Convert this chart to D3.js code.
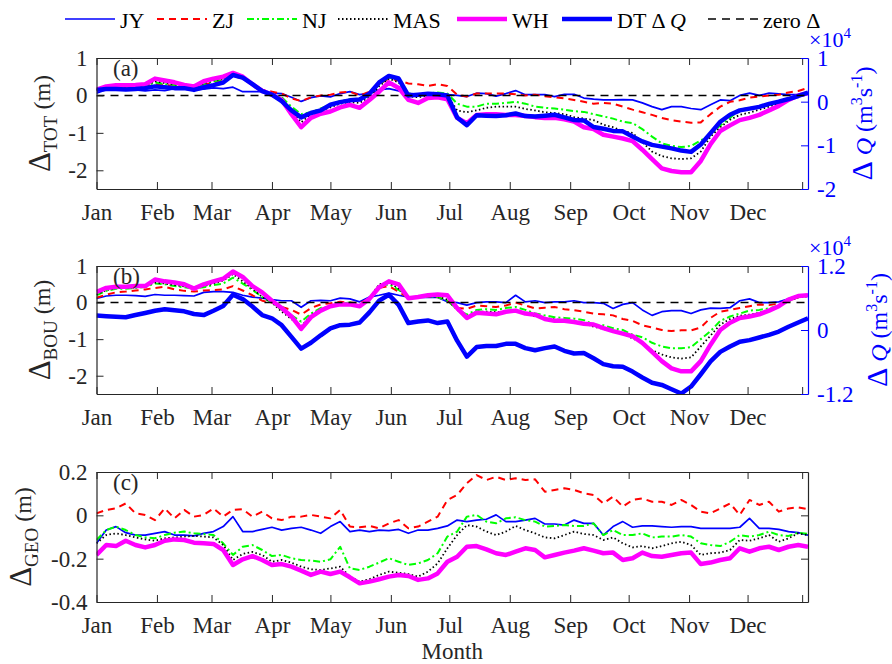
<!DOCTYPE html>
<html>
<head>
<meta charset="utf-8">
<script src="https://cdn.jsdelivr.net/npm/d3@7"></script>
<style>
  body { margin: 0; background: #fff; }
  svg { display: block; }
  text { font-family: "Liberation Serif", "Times New Roman", serif; }
</style>
</head>
<body>
<svg id="chart" width="892" height="664"></svg>
<script>
'use strict';

// day of year, sampled every 5 days
const days = [0,5,10,15,20,25,30,35,40,45,50,55,60,65,70,75,80,85,90,95,100,105,110,115,120,125,130,135,140,145,150,155,160,165,170,175,180,
    185,190,195,200,205,210,215,220,225,230,235,240,245,250,255,260,265,270,275,280,285,290,295,300,305,310,315,320,325,330,335,340,345,350,355,360,365];
const monthStarts = [0, 31, 59, 90, 120, 151, 181, 212, 243, 273, 304, 334];
const monthNames = ['Jan', 'Feb', 'Mar', 'Apr', 'May', 'Jun', 'Jul', 'Aug', 'Sep', 'Oct', 'Nov', 'Dec'];
const xTickDays = monthStarts.concat([362]);

// (a) total, m
const totJY = [0.06,0.15,0.15,0.14,0.15,0.12,0.15,0.13,0.18,0.17,0.15,0.17,0.2,0.18,0.22,0.1,0.1,0.1,0.06,0.05,-0.05,-0.16,-0.06,-0.01,-0.04,0.05,0.1,0.02,0.06,0.15,0.18,0.12,0.06,0.02,0.03,0.04,0.02,
    0.0,-0.03,0.06,0.05,-0.02,0.05,0.13,0.02,0.02,0.02,-0.03,0.03,0.03,-0.07,-0.1,-0.12,-0.12,-0.11,-0.12,-0.2,-0.3,-0.38,-0.3,-0.3,-0.35,-0.38,-0.25,-0.12,-0.14,0.0,0.06,0.0,0.06,0.04,0.02,0.02,0.06];
const totZJ = [0.15,0.2,0.2,0.2,0.22,0.22,0.3,0.28,0.25,0.22,0.2,0.28,0.35,0.4,0.52,0.45,0.3,0.15,0.1,0.05,-0.08,-0.15,-0.05,0.0,0.02,0.08,0.1,0.0,0.1,0.3,0.45,0.4,0.32,0.3,0.25,0.3,0.25,
    0.02,-0.03,0.05,0.05,0.05,0.05,0.03,0.0,0.02,-0.02,-0.05,-0.08,-0.12,-0.17,-0.22,-0.2,-0.22,-0.3,-0.38,-0.45,-0.52,-0.6,-0.66,-0.7,-0.73,-0.72,-0.5,-0.3,-0.17,-0.13,-0.06,-0.03,0.0,0.02,0.08,0.12,0.2];
const totNJ = [0.15,0.2,0.2,0.2,0.22,0.24,0.35,0.3,0.28,0.24,0.2,0.3,0.38,0.42,0.55,0.47,0.28,0.12,0.05,-0.05,-0.3,-0.5,-0.45,-0.35,-0.25,-0.15,-0.1,-0.12,0.0,0.3,0.48,0.42,0.05,0.0,0.05,0.08,0.05,
    -0.22,-0.3,-0.3,-0.22,-0.22,-0.2,-0.17,-0.22,-0.3,-0.33,-0.35,-0.38,-0.42,-0.44,-0.5,-0.56,-0.62,-0.7,-0.74,-0.9,-1.1,-1.28,-1.35,-1.38,-1.35,-1.2,-1.05,-0.8,-0.6,-0.38,-0.33,-0.3,-0.27,-0.18,-0.1,-0.03,0.08];
const totMAS = [0.15,0.2,0.2,0.2,0.22,0.25,0.38,0.33,0.3,0.24,0.2,0.32,0.4,0.45,0.58,0.48,0.28,0.1,0.03,-0.08,-0.4,-0.72,-0.5,-0.4,-0.32,-0.22,-0.18,-0.2,-0.05,0.25,0.45,0.35,-0.02,-0.05,0.0,0.02,0.0,
    -0.4,-0.45,-0.4,-0.33,-0.3,-0.3,-0.3,-0.36,-0.4,-0.45,-0.47,-0.5,-0.58,-0.62,-0.66,-0.78,-0.85,-0.95,-1.0,-1.25,-1.5,-1.62,-1.68,-1.7,-1.68,-1.5,-1.1,-0.85,-0.65,-0.52,-0.46,-0.38,-0.3,-0.22,-0.1,0.0,0.08];
const totWH = [0.15,0.24,0.27,0.27,0.28,0.3,0.45,0.4,0.35,0.28,0.24,0.38,0.45,0.5,0.6,0.5,0.3,0.12,0.02,-0.12,-0.5,-0.85,-0.6,-0.49,-0.43,-0.32,-0.25,-0.33,-0.12,0.1,0.35,0.2,-0.12,-0.2,-0.07,-0.05,-0.1,
    -0.6,-0.74,-0.52,-0.5,-0.5,-0.52,-0.52,-0.55,-0.58,-0.6,-0.6,-0.64,-0.7,-0.85,-0.9,-1.05,-1.1,-1.15,-1.22,-1.45,-1.7,-1.95,-2.02,-2.05,-2.05,-1.75,-1.3,-0.95,-0.8,-0.66,-0.6,-0.52,-0.4,-0.28,-0.12,0.0,0.06];
// DT discharge anomaly, x 10^4 m3/s
const totDQ = [0.27,0.29,0.29,0.28,0.29,0.31,0.35,0.33,0.31,0.31,0.27,0.33,0.38,0.44,0.61,0.55,0.4,0.24,0.16,0.01,-0.2,-0.36,-0.26,-0.2,-0.07,-0.01,0.03,0.05,0.18,0.44,0.59,0.53,0.14,0.16,0.18,0.17,0.14,
    -0.36,-0.54,-0.31,-0.32,-0.33,-0.31,-0.27,-0.33,-0.34,-0.32,-0.3,-0.36,-0.42,-0.43,-0.58,-0.62,-0.67,-0.68,-0.8,-0.91,-0.99,-1.03,-1.07,-1.12,-1.15,-0.98,-0.72,-0.46,-0.3,-0.2,-0.16,-0.12,-0.05,0.0,0.06,0.13,0.21];

// (b) boundary, m
const bouJY = [0.11,0.18,0.2,0.2,0.19,0.17,0.22,0.2,0.2,0.19,0.18,0.28,0.3,0.3,0.28,0.2,0.15,0.12,0.08,0.05,0.05,-0.13,0.05,0.06,0.05,0.12,0.1,0.02,0.15,0.2,0.26,0.2,0.15,0.14,0.14,0.14,0.02,
    0.0,-0.07,0.0,0.02,0.02,0.0,0.2,0.02,0.05,0.0,0.02,0.02,0.05,0.0,0.0,-0.02,-0.16,-0.05,0.0,-0.2,-0.35,-0.25,-0.22,-0.22,-0.3,-0.2,-0.15,-0.16,-0.14,0.05,0.1,0.0,0.0,0.02,0.1,0.2,0.18];
const bouZJ = [0.13,0.22,0.28,0.3,0.33,0.36,0.4,0.43,0.36,0.32,0.3,0.33,0.34,0.36,0.45,0.33,0.2,0.05,0.0,-0.12,-0.2,-0.33,-0.15,-0.05,-0.02,0.02,0.0,-0.02,0.12,0.4,0.45,0.3,0.12,0.15,0.17,0.15,0.05,
    -0.15,-0.17,-0.08,-0.1,-0.12,-0.08,0.0,-0.08,-0.16,-0.14,-0.12,-0.18,-0.21,-0.25,-0.3,-0.32,-0.35,-0.45,-0.5,-0.62,-0.68,-0.75,-0.78,-0.76,-0.76,-0.68,-0.42,-0.25,-0.2,-0.15,-0.1,-0.05,-0.07,-0.03,0.04,0.15,0.2];
const bouNJ = [0.2,0.32,0.38,0.38,0.4,0.43,0.52,0.5,0.45,0.42,0.38,0.42,0.48,0.52,0.68,0.52,0.35,0.15,0.0,-0.2,-0.35,-0.52,-0.3,-0.15,-0.1,-0.03,0.0,-0.07,0.12,0.45,0.5,0.35,0.13,0.15,0.17,0.15,0.05,
    -0.18,-0.33,-0.2,-0.18,-0.2,-0.15,-0.12,-0.2,-0.3,-0.35,-0.4,-0.42,-0.44,-0.48,-0.6,-0.62,-0.7,-0.75,-0.88,-0.95,-1.1,-1.2,-1.25,-1.25,-1.22,-1.0,-0.78,-0.5,-0.38,-0.3,-0.22,-0.2,-0.16,-0.08,0.05,0.15,0.18];
const bouMAS = [0.22,0.34,0.4,0.4,0.42,0.45,0.55,0.52,0.48,0.44,0.4,0.45,0.52,0.6,0.78,0.58,0.38,0.15,0.0,-0.25,-0.45,-0.65,-0.35,-0.18,-0.12,-0.06,-0.05,-0.1,0.12,0.5,0.55,0.38,0.13,0.16,0.18,0.17,0.08,
    -0.2,-0.38,-0.25,-0.25,-0.26,-0.25,-0.22,-0.3,-0.38,-0.42,-0.46,-0.48,-0.52,-0.57,-0.66,-0.72,-0.78,-0.85,-0.98,-1.1,-1.3,-1.42,-1.5,-1.53,-1.5,-1.2,-0.9,-0.6,-0.45,-0.36,-0.33,-0.28,-0.2,-0.1,0.04,0.14,0.17];
const bouWH = [0.29,0.4,0.43,0.43,0.45,0.45,0.63,0.58,0.55,0.5,0.38,0.5,0.58,0.65,0.85,0.7,0.45,0.28,0.05,-0.15,-0.38,-0.72,-0.4,-0.22,-0.1,-0.05,-0.05,-0.1,0.1,0.42,0.58,0.5,0.12,0.15,0.2,0.22,0.2,
    -0.15,-0.42,-0.28,-0.3,-0.32,-0.25,-0.22,-0.3,-0.33,-0.45,-0.5,-0.5,-0.53,-0.58,-0.6,-0.7,-0.78,-0.85,-0.92,-1.1,-1.35,-1.6,-1.8,-1.88,-1.88,-1.6,-1.15,-0.75,-0.55,-0.42,-0.38,-0.32,-0.22,-0.1,0.08,0.18,0.2];
const bouDQ = [0.27,0.26,0.25,0.24,0.28,0.32,0.36,0.39,0.37,0.35,0.3,0.28,0.36,0.45,0.66,0.58,0.44,0.28,0.22,0.09,-0.13,-0.35,-0.24,-0.1,0.03,0.09,0.1,0.14,0.33,0.55,0.66,0.47,0.13,0.16,0.18,0.13,0.16,
    -0.2,-0.5,-0.32,-0.3,-0.3,-0.26,-0.26,-0.34,-0.38,-0.34,-0.31,-0.39,-0.44,-0.43,-0.53,-0.64,-0.68,-0.69,-0.78,-0.89,-0.99,-1.03,-1.11,-1.19,-1.06,-0.83,-0.59,-0.41,-0.31,-0.22,-0.19,-0.14,-0.09,-0.03,0.06,0.14,0.22];

// (c) geometry, m
const geoJY = [-0.129,-0.068,-0.052,-0.08,-0.091,-0.091,-0.083,-0.075,-0.091,-0.091,-0.095,-0.083,-0.075,-0.052,-0.006,-0.075,-0.075,-0.065,-0.055,-0.068,-0.06,-0.055,-0.068,-0.083,-0.052,-0.029,-0.075,-0.068,-0.075,-0.068,-0.071,-0.065,-0.083,-0.068,-0.068,-0.06,-0.049,
    -0.022,-0.029,-0.022,-0.018,0.002,-0.029,-0.029,-0.022,-0.014,-0.04,-0.04,-0.045,-0.022,-0.037,-0.037,-0.091,-0.052,-0.029,-0.055,-0.049,-0.049,-0.052,-0.055,-0.052,-0.052,-0.06,-0.06,-0.06,-0.06,-0.055,-0.014,-0.06,-0.06,-0.065,-0.075,-0.08,-0.091];
const geoZJ = [0.009,0.025,0.032,0.055,0.009,0.002,-0.022,0.032,-0.014,0.025,-0.006,0.002,0.032,-0.006,0.025,0.028,-0.006,0.017,-0.014,-0.022,-0.006,-0.006,0.002,-0.006,-0.014,0.025,-0.052,-0.055,-0.049,-0.06,-0.037,-0.022,-0.06,-0.052,-0.029,-0.006,0.071,
    0.094,0.148,0.186,0.163,0.178,0.163,0.171,0.163,0.166,0.109,0.117,0.125,0.117,0.102,0.094,0.055,0.086,0.04,0.071,0.078,0.063,0.063,0.048,0.071,0.048,0.017,0.009,0.032,0.055,0.002,0.071,0.048,0.063,0.017,0.032,0.037,0.028];
const geoNJ = [-0.114,-0.068,-0.052,-0.068,-0.091,-0.102,-0.106,-0.091,-0.08,-0.075,-0.083,-0.086,-0.091,-0.129,-0.183,-0.145,-0.137,-0.16,-0.188,-0.183,-0.198,-0.206,-0.209,-0.214,-0.203,-0.145,-0.245,-0.252,-0.237,-0.218,-0.198,-0.214,-0.229,-0.222,-0.206,-0.175,-0.098,
    -0.075,-0.006,0.002,-0.029,-0.037,-0.014,-0.009,-0.022,-0.029,-0.052,-0.049,-0.045,-0.049,-0.049,-0.037,-0.091,-0.068,-0.091,-0.091,-0.083,-0.102,-0.098,-0.098,-0.091,-0.098,-0.129,-0.137,-0.142,-0.122,-0.091,-0.098,-0.091,-0.075,-0.091,-0.095,-0.08,-0.086];
const geoMAS = [-0.129,-0.091,-0.083,-0.091,-0.102,-0.111,-0.117,-0.106,-0.102,-0.098,-0.095,-0.098,-0.102,-0.137,-0.206,-0.178,-0.169,-0.183,-0.214,-0.206,-0.218,-0.237,-0.249,-0.252,-0.245,-0.237,-0.283,-0.306,-0.295,-0.275,-0.26,-0.265,-0.271,-0.283,-0.26,-0.222,-0.152,
    -0.091,-0.045,-0.052,-0.075,-0.091,-0.075,-0.049,-0.068,-0.083,-0.102,-0.106,-0.091,-0.075,-0.086,-0.091,-0.114,-0.102,-0.129,-0.148,-0.142,-0.152,-0.142,-0.129,-0.122,-0.137,-0.183,-0.175,-0.172,-0.16,-0.114,-0.117,-0.106,-0.091,-0.122,-0.106,-0.083,-0.091];
const geoWH = [-0.183,-0.137,-0.142,-0.117,-0.137,-0.148,-0.137,-0.117,-0.111,-0.114,-0.126,-0.129,-0.132,-0.16,-0.229,-0.203,-0.188,-0.206,-0.229,-0.225,-0.237,-0.255,-0.275,-0.26,-0.271,-0.26,-0.286,-0.314,-0.306,-0.295,-0.283,-0.275,-0.28,-0.298,-0.291,-0.268,-0.214,
    -0.191,-0.145,-0.142,-0.157,-0.175,-0.183,-0.168,-0.152,-0.16,-0.194,-0.183,-0.172,-0.163,-0.152,-0.163,-0.175,-0.172,-0.206,-0.198,-0.172,-0.188,-0.191,-0.183,-0.175,-0.172,-0.225,-0.218,-0.206,-0.198,-0.152,-0.168,-0.152,-0.145,-0.16,-0.145,-0.137,-0.145];

const AXIS_COLOR = '#262626';
const BLUE = '#0000ff';
const FONT = 23;
const LEGEND_FONT = 22;
const TICK = 7;

const STYLE = {
    JY: { color: BLUE, width: 1.7 },
    ZJ: { color: '#ff0000', width: 2, dash: '7,5' },
    NJ: { color: '#00ff00', width: 2, dash: '7,3,2,3' },
    MAS: { color: '#000000', width: 1.8, dash: '1.5,2.5' },
    WH: { color: '#ff00ff', width: 4.5 },
    DQ: { color: BLUE, width: 4.5 },
    zero: { color: '#000000', width: 1.5, dash: '8,6' }
};

const panels = [
    { key: 'a', top: 58, bottom: 189, yDomain: [-2.5, 1], yTicks: [1, 0, -1, -2],
      rDomain: [-2, 1], rTicks: [1, 0, -1, -2], sub: 'TOT', tag: '(a)', labelX: 50, rLabelX: 872, zero: true,
      series: { JY: totJY, ZJ: totZJ, NJ: totNJ, MAS: totMAS, WH: totWH }, dq: totDQ },
    { key: 'b', top: 266, bottom: 394, yDomain: [-2.5, 1], yTicks: [1, 0, -1, -2],
      rDomain: [-1.2, 1.2], rTicks: [1.2, 0, -1.2], sub: 'BOU', tag: '(b)', labelX: 50, rLabelX: 887, zero: true,
      series: { JY: bouJY, ZJ: bouZJ, NJ: bouNJ, MAS: bouMAS, WH: bouWH }, dq: bouDQ },
    { key: 'c', top: 472, bottom: 602, yDomain: [-0.4, 0.2], yTicks: [0.2, 0, -0.2, -0.4],
      sub: 'GEO', tag: '(c)', labelX: 31, zero: false,
      series: { JY: geoJY, ZJ: geoZJ, NJ: geoNJ, MAS: geoMAS, WH: geoWH } }
];

const svg = d3.select('#chart');
const x = d3.scaleLinear().domain([0, 365]).range([96.5, 808]);
const [x0, x1] = x.range();

function applyStroke(sel, st) {
    sel.attr('fill', 'none')
        .attr('stroke', st.color)
        .attr('stroke-width', st.width)
        .attr('stroke-dasharray', st.dash || null)
        .attr('stroke-linejoin', 'round');
}

function styleAxis(g, color) {
    g.attr('font-size', FONT).attr('font-family', null);
    g.select('.domain').attr('stroke', color).attr('stroke-width', 1.2);
    g.selectAll('.tick line').attr('stroke', color).attr('stroke-width', 1);
    g.selectAll('.tick text').attr('fill', color);
}

function drawPanel(p) {
    const y = d3.scaleLinear().domain(p.yDomain).range([p.bottom, p.top]);
    const yR = p.rDomain ? d3.scaleLinear().domain(p.rDomain).range([p.bottom, p.top]) : null;

    svg.append('clipPath').attr('id', 'clip-' + p.key)
        .append('rect')
        .attr('x', x0).attr('y', p.top)
        .attr('width', x1 - x0).attr('height', p.bottom - p.top);

    const plot = svg.append('g').attr('clip-path', `url(#clip-${p.key})`);

    const lineL = d3.line().x((d, i) => x(days[i])).y(d => y(d));
    Object.keys(p.series).forEach(k => {
        plot.append('path').datum(p.series[k]).attr('d', lineL).call(applyStroke, STYLE[k]);
    });
    if (yR) {
        const lineR = d3.line().x((d, i) => x(days[i])).y(d => yR(d));
        plot.append('path').datum(p.dq).attr('d', lineR).call(applyStroke, STYLE.DQ);
    }
    if (p.zero) {
        plot.append('line')
            .attr('x1', x0).attr('x2', x1)
            .attr('y1', y(0)).attr('y2', y(0))
            .call(applyStroke, STYLE.zero);
    }

    // axes, ticks pointing inwards like the original
    svg.append('g').attr('transform', `translate(0,${p.bottom})`)
        .call(d3.axisBottom(x).tickValues(xTickDays).tickFormat((d, i) => monthNames[i] || '')
            .tickSize(-TICK).tickSizeOuter(0).tickPadding(15))
        .call(styleAxis, AXIS_COLOR);
    svg.append('g').attr('transform', `translate(0,${p.top})`)
        .call(d3.axisTop(x).tickValues(xTickDays).tickFormat('')
            .tickSize(-TICK).tickSizeOuter(0))
        .call(styleAxis, AXIS_COLOR);
    svg.append('g').attr('transform', `translate(${x0},0)`)
        .call(d3.axisLeft(y).tickValues(p.yTicks).tickFormat(d => String(d))
            .tickSize(-TICK).tickSizeOuter(0).tickPadding(9))
        .call(styleAxis, AXIS_COLOR);

    if (yR) {
        svg.append('g').attr('transform', `translate(${x1},0)`)
            .call(d3.axisRight(yR).tickValues(p.rTicks).tickFormat(d => String(d))
                .tickSize(-TICK).tickSizeOuter(0).tickPadding(9))
            .call(styleAxis, BLUE);

        const exp = svg.append('text')
            .attr('x', x1 + 1).attr('y', p.top - 11)
            .attr('fill', BLUE).attr('font-size', LEGEND_FONT);
        exp.append('tspan').text('\u00d710');
        exp.append('tspan').attr('font-size', 15).attr('dy', -9).text('4');

        const rl = svg.append('text')
            .attr('transform', `translate(${p.rLabelX},${(p.top + p.bottom) / 2}) rotate(-90)`)
            .attr('text-anchor', 'middle').attr('fill', BLUE).attr('font-size', 24);
        rl.append('tspan').attr('font-size', 30).text('\u0394 ');
        rl.append('tspan').attr('font-style', 'italic').text('Q');
        rl.append('tspan').text(' (m');
        rl.append('tspan').attr('font-size', 16).attr('dy', -10).text('3');
        rl.append('tspan').attr('dy', 10).text('s');
        rl.append('tspan').attr('font-size', 16).attr('dy', -10).text('-1');
        rl.append('tspan').attr('dy', 10).text(')');
    } else {
        svg.append('g').attr('transform', `translate(${x1},0)`)
            .call(d3.axisRight(y).tickValues(p.yTicks).tickFormat('')
                .tickSize(-TICK).tickSizeOuter(0))
            .call(styleAxis, AXIS_COLOR);
    }

    const yl = svg.append('text')
        .attr('transform', `translate(${p.labelX},${(p.top + p.bottom) / 2}) rotate(-90)`)
        .attr('text-anchor', 'middle').attr('fill', AXIS_COLOR).attr('font-size', 24);
    yl.append('tspan').attr('font-size', 31).text('\u0394');
    yl.append('tspan').attr('font-size', 19).attr('dy', 7).text(p.sub);
    yl.append('tspan').attr('dy', -7).text(' (m)');

    svg.append('text')
        .attr('x', 113).attr('y', p.top + 18)
        .attr('fill', AXIS_COLOR).attr('font-size', FONT)
        .text(p.tag);
}

panels.forEach(drawPanel);

svg.append('text')
    .attr('x', (x0 + x1) / 2).attr('y', 659)
    .attr('text-anchor', 'middle').attr('fill', AXIS_COLOR).attr('font-size', FONT)
    .text('Month');

// legend
const legendItems = [
    { key: 'JY', label: 'JY' },
    { key: 'ZJ', label: 'ZJ' },
    { key: 'NJ', label: 'NJ' },
    { key: 'MAS', label: 'MAS' },
    { key: 'WH', label: 'WH' },
    { key: 'DQ', label: 'DT \u0394 ', italic: 'Q' },
    { key: 'zero', label: 'zero \u0394' }
];
const LEGEND_X = [65, 157, 247, 338, 457, 562, 708];
const legend = svg.append('g');
legendItems.forEach((item, i) => {
    const lx = LEGEND_X[i];
    legend.append('line')
        .attr('x1', lx).attr('x2', lx + 50)
        .attr('y1', 19).attr('y2', 19)
        .call(applyStroke, Object.assign({}, STYLE[item.key], { width: Math.min(STYLE[item.key].width, 5) }));
    const t = legend.append('text')
        .attr('x', lx + 55).attr('y', 28)
        .attr('fill', '#000').attr('font-size', LEGEND_FONT);
    t.append('tspan').text(item.label);
    if (item.italic) t.append('tspan').attr('font-style', 'italic').text(item.italic);
});
</script>
</body>
</html>
